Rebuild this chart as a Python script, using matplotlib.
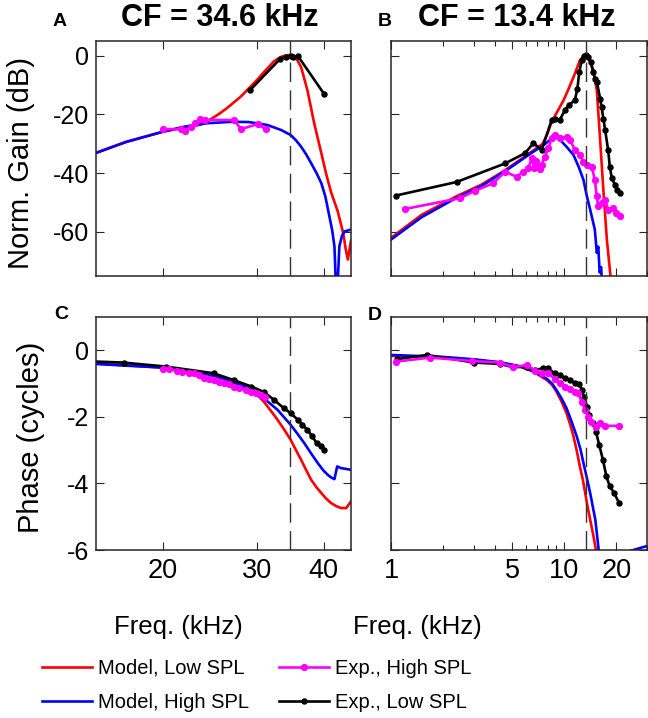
#!/usr/bin/env python3

import numpy as np
import matplotlib
matplotlib.use("Agg")
import matplotlib.pyplot as plt
from matplotlib.ticker import FixedLocator, NullLocator, NullFormatter

plt.rcParams["font.family"] = ["Liberation Sans", "DejaVu Sans"]

# ---- panel A: gain, CF = 34.6 kHz ----
a_cf = 34.6
a_low_f = [15, 17, 20, 22, 23.5, 24.2, 24.6, 25.5, 26.3, 27, 28, 29.1, 30, 31, 32.3,
           33.3, 33.8, 34.7, 35.2, 35.7, 36.3, 37.3, 38.4, 39.6, 40.4, 41.3, 42.5, 43.5,
           44.0, 44.4, 45]
a_low_g = [-33.1, -29.5, -25.9, -24.4, -23.5, -22.5, -21.6, -19.8, -18.0, -16.3, -13.9,
           -10.8, -8.3, -5.4, -1.9, -0.4, 0.0, 0.3, 0.0, -1.5, -3.9, -11.8, -23.0, -33.2,
           -40.0, -46.5, -53.0, -60.3, -66.0, -69.4, -63.0]
a_high_f = [15, 17.1, 20, 21.9, 24.2, 27, 29, 31.4, 33.3, 34.7, 35.5, 36.3, 37.1,
            37.9, 38.8, 39.6, 40.3, 41.0, 41.5, 41.9, 42.3, 42.8, 43.3, 43.8, 45]
a_high_g = [-33.1, -29.3, -25.9, -24.2, -23.0, -22.5, -22.6, -23.6, -25.3, -27.0,
            -28.8, -31.0, -33.6, -36.6, -40.0, -43.4, -48.0, -54.7, -59.5, -64.9, -85.0,
            -64.9, -61.2, -59.8, -59.2]
a_exp_low_f = [29.1, 33.2, 34.0, 34.7, 35.1, 35.8, 40.1]
a_exp_low_g = [-11.8, -1.0, -0.5, 0.0, -0.3, -0.1, -13.1]
a_exp_high_f = [20.0, 21.6, 22.0, 22.6, 23.0, 23.5, 24.0, 27.2, 28.0, 30.1, 31.2]
a_exp_high_g = [-25.0, -25.0, -25.6, -24.2, -22.8, -21.7, -21.9, -21.9, -25.0, -23.3, -25.1]

# ---- panel B: gain, CF = 13.4 kHz ----
b_cf = 13.4
b_low_f = [1, 1.5, 2.4, 3.3, 4.5, 5.5, 6.5, 7.5, 8.0, 8.45, 9.2, 9.9, 10.6, 11.3,
           12.3, 12.8, 13.2, 13.6, 14.0, 14.7, 15.4, 16.1, 16.8, 17.6, 18.4, 19.0]
b_low_g = [-62.0, -54.2, -47.8, -44.0, -39.2, -35.6, -32.6, -30.0, -26.5, -22.5, -18.6,
           -15.2, -11.2, -7.3, -1.6, -0.4, 0.1, -0.3, -1.5, -5.0, -11.8, -28.7, -45.7,
           -62.6, -74.0, -85.0]
b_high_f = [1, 1.5, 2.4, 3.3, 4.5, 5.5, 6.5, 7.5, 8.3, 8.84, 9.5, 10.3, 11.3, 12.1,
            12.9, 13.5, 14.1, 15.0, 15.4, 15.7, 16.0, 16.3, 16.6]
b_high_g = [-62.6, -55.0, -48.3, -44.5, -39.5, -36.0, -33.0, -30.7, -28.6, -27.6, -28.8,
            -31.0, -33.8, -37.8, -42.3, -47.9, -52.4, -59.2, -67.1, -65.0, -73.8, -72.0,
            -80.0]
b_exp_low_f = [1.07, 2.39, 4.55, 5.93, 6.63, 7.4, 8.45, 8.84, 9.4, 10.1, 10.6, 11.5,
               11.9, 12.2, 12.6, 13.0, 13.3, 13.7, 14.2, 14.7, 15.0, 15.4, 16.1, 16.4,
               16.8, 17.2, 17.9, 18.3, 18.8, 19.6, 20.1, 20.9]
b_exp_low_g = [-47.6, -43.0, -36.7, -33.2, -29.8, -32.1, -21.9, -21.4, -21.9, -18.5,
               -16.8, -15.2, -11.2, -5.6, -1.6, -0.2, 0.1, -0.5, -2.2, -5.6, -7.8, -8.9,
               -14.6, -17.4, -21.4, -25.3, -32.1, -37.8, -41.7, -44.0, -45.7, -46.8]
b_exp_high_f = [1.20, 2.50, 3.05, 3.89, 4.55, 5.3, 5.8, 6.2, 6.48, 6.7, 6.9, 7.2, 7.4,
                7.7, 8.1, 8.45, 8.84, 9.4, 10.3, 10.8, 11.5, 12.3, 12.9, 13.5, 14.4,
                15.0, 15.4, 15.7, 16.4, 17.2, 17.9, 19.1, 20.0, 20.9]
b_exp_high_g = [-52.2, -48.5, -46.0, -43.4, -39.5, -41.2, -39.5, -38.3, -34.9, -38.3,
                -36.0, -38.5, -37.2, -34.4, -31.5, -28.1, -27.0, -28.1, -27.6, -28.7,
                -32.1, -33.8, -36.1, -37.2, -37.8, -42.3, -47.9, -51.3, -50.2, -49.0,
                -52.4, -51.9, -53.6, -54.7]

# ---- panel C: phase, CF = 34.6 kHz ----
c_low_f = [15, 17, 20, 22, 24, 26, 27, 28.2, 29.2, 30.1, 30.9, 31.8, 32.8, 33.8, 34.7,
           35.5, 36.3, 37.1, 37.9, 38.8, 39.6, 40.4, 41.3, 42.2, 43.1, 44.1, 45]
c_low_p = [-0.40, -0.45, -0.52, -0.60, -0.70, -0.85, -0.97, -1.07, -1.19, -1.35, -1.54,
           -1.80, -2.09, -2.40, -2.69, -3.00, -3.29, -3.60, -3.89, -4.12, -4.29, -4.45,
           -4.59, -4.68, -4.74, -4.74, -4.54]
c_high_f = [15, 17, 20, 22, 24, 26, 27, 29.2, 30.9, 32.8, 34.7, 35.7, 36.8, 37.9, 39.0,
            39.9, 40.7, 41.3, 41.9, 42.4, 43.1, 45]
c_high_p = [-0.41, -0.46, -0.52, -0.60, -0.70, -0.85, -0.97, -1.14, -1.44, -1.79,
            -2.24, -2.50, -2.79, -3.10, -3.39, -3.60, -3.74, -3.82, -3.87, -3.49, -3.54,
            -3.59]
c_exp_low_f = [14.5, 16.9, 20.3, 24.9, 27.2, 29.3, 30.9, 32.3, 33.7, 34.7, 35.8, 36.5,
               37.3, 38.1, 38.8, 39.5, 40.1]
c_exp_low_p = [-0.33, -0.37, -0.49, -0.69, -0.90, -1.09, -1.25, -1.49, -1.74, -1.89,
               -2.09, -2.24, -2.39, -2.59, -2.79, -2.89, -2.99]
c_exp_high_f = [20.0, 20.5, 21.3, 21.7, 22.4, 22.9, 23.4, 23.9, 24.4, 24.9, 25.5, 26.0,
                26.6, 27.2, 27.8, 28.6, 29.2, 29.9, 30.5, 31.1]
c_exp_high_p = [-0.57, -0.57, -0.61, -0.64, -0.67, -0.69, -0.74, -0.84, -0.87, -0.89,
                -0.94, -0.97, -1.01, -1.09, -1.14, -1.19, -1.24, -1.29, -1.34, -1.39]

# ---- panel D: phase, CF = 13.4 kHz ----
d_low_f = [1, 2, 3, 4.26, 5.55, 6.62, 7.9, 8.5, 9.0, 9.6, 10.3, 10.8, 11.3, 11.8, 12.3,
           12.8, 13.2, 13.6, 14.1, 14.6, 15.1, 15.6]
d_low_p = [-0.17, -0.22, -0.29, -0.37, -0.49, -0.64, -0.89, -1.04, -1.24, -1.52, -1.89,
           -2.22, -2.59, -3.02, -3.49, -3.90, -4.29, -4.68, -5.09, -5.48, -5.89, -6.40]
d_high_f = [1, 2, 3, 4.26, 5.55, 6.62, 7.9, 8.5, 9.0, 9.6, 10.3, 11.0, 11.8, 12.4,
            12.9, 13.5, 14.1, 14.6, 15.1, 15.7, 16.2, np.nan, 21.5, 30]
d_high_p = [-0.14, -0.20, -0.27, -0.36, -0.48, -0.62, -0.85, -1.00, -1.19, -1.43, -1.74,
            -2.13, -2.59, -2.98, -3.39, -3.84, -4.29, -4.70, -5.09, -5.89, -6.50,
            np.nan, -6.10, -5.88]
d_exp_low_f = [1.08, 1.61, 3.03, 4.26, 5.08, 6.07, 6.78, 7.56, 8.1, 8.27, 8.8, 9.4,
               10.1, 10.8, 11.5, 12.2, 12.6, 13.0, 13.5, 13.9, 14.6, 15.2, 15.9, 16.7,
               17.5, 18.3, 19.4, 20.7]
d_exp_low_p = [-0.27, -0.14, -0.37, -0.41, -0.51, -0.49, -0.59, -0.54, -0.54, -0.64,
               -0.69, -0.74, -0.84, -0.89, -0.99, -1.01, -1.19, -1.39, -1.69, -1.94,
               -2.19, -2.44, -2.84, -3.29, -3.79, -4.09, -4.29, -4.59]
d_exp_high_f = [1.07, 1.68, 2.92, 4.26, 5.08, 6.07, 6.78, 7.4, 8.1, 8.84, 9.4, 10.1,
                10.8, 11.5, 12.0, 12.6, 13.2, 13.7, 14.3, 15.2, 16.0, 17.2, 20.8]
d_exp_high_p = [-0.34, -0.22, -0.32, -0.37, -0.51, -0.44, -0.61, -0.67, -0.69, -0.87,
                -0.99, -1.09, -1.17, -1.24, -1.29, -1.54, -1.79, -1.99, -2.14, -2.31,
                -2.17, -2.27, -2.27]

FRAME = "#262626"
LW = 1.9


def style_axis(ax, xlim, ylim, xmajor, xminor, yticks, xlabels, ylabels):
    ax.set_xscale("log")
    ax.set_xlim(*xlim)
    ax.set_ylim(*ylim)
    ax.xaxis.set_major_locator(FixedLocator(xmajor))
    if xminor:
        ax.xaxis.set_minor_locator(FixedLocator(xminor))
    else:
        ax.xaxis.set_minor_locator(NullLocator())
    ax.xaxis.set_minor_formatter(NullFormatter())
    ax.set_yticks(yticks)
    if xlabels:
        ax.set_xticklabels([f"{t:g}" for t in xmajor], fontsize=19.5)
    else:
        ax.set_xticklabels([])
    if ylabels:
        ax.set_yticklabels([f"{t:g}" for t in yticks], fontsize=18)
    else:
        ax.set_yticklabels([])
    ax.tick_params(which="both", direction="in", top=True, right=True,
                   color=FRAME, width=0.8)
    ax.tick_params(which="major", length=5.8, pad=5)
    ax.tick_params(which="minor", length=3.8)
    ax.tick_params(axis="x", pad=6)
    for s in ax.spines.values():
        s.set_color(FRAME)
        s.set_linewidth(1.1)


def draw(ax, low, high, exp_low, exp_high, cf):
    h1, = ax.plot(low[0], low[1], color="#ff0000", lw=LW, label="Model, Low SPL")
    h2, = ax.plot(high[0], high[1], color="#0000ff", lw=LW, label="Model, High SPL")
    h4, = ax.plot(exp_low[0], exp_low[1], color="k", lw=LW, marker="o", ms=3.6,
                  label="Exp., Low SPL")
    h3, = ax.plot(exp_high[0], exp_high[1], color="#ff00ff", lw=LW, marker="o", ms=4.2,
                  label="Exp., High SPL")
    ax.axvline(cf, color="#333333", lw=1.0, ls=(0, (14, 6)))
    return [h1, h2, h3, h4]


fig = plt.figure(figsize=(6.48, 7.18), dpi=100)
W, H = 648.0, 718.0


def add_axes(left, top, right, bottom):
    return fig.add_axes([left / W, 1 - bottom / H, (right - left) / W, (bottom - top) / H])


ax_a = add_axes(96, 41, 351, 276)
ax_b = add_axes(391, 41, 647, 276)
ax_c = add_axes(96, 317, 351, 550)
ax_d = add_axes(391, 317, 647, 550)

draw(ax_a, (a_low_f, a_low_g), (a_high_f, a_high_g),
     (a_exp_low_f, a_exp_low_g), (a_exp_high_f, a_exp_high_g), a_cf)
draw(ax_b, (b_low_f, b_low_g), (b_high_f, b_high_g),
     (b_exp_low_f, b_exp_low_g), (b_exp_high_f, b_exp_high_g), b_cf)
draw(ax_c, (c_low_f, c_low_p), (c_high_f, c_high_p),
     (c_exp_low_f, c_exp_low_p), (c_exp_high_f, c_exp_high_p), a_cf)
handles = draw(ax_d, (d_low_f, d_low_p), (d_high_f, d_high_p),
               (d_exp_low_f, d_exp_low_p), (d_exp_high_f, d_exp_high_p), b_cf)

high_major = [20, 30, 40]
low_major = [1, 5, 10, 20]
low_minor = [2, 3, 4, 6, 7, 8, 9, 30]
gain_ticks = [-60, -40, -20, 0]
phase_ticks = [-6, -4, -2, 0]

style_axis(ax_a, (15, 45), (-75, 5), high_major, None, gain_ticks, False, True)
style_axis(ax_b, (1, 30), (-75, 5), low_major, low_minor, gain_ticks, False, False)
style_axis(ax_c, (15, 45), (-6, 1), high_major, None, phase_ticks, True, True)
style_axis(ax_d, (1, 30), (-6, 1), low_major, low_minor, phase_ticks, True, False)

# titles and panel letters
fig.text(60 / W, 1 - 21 / H, "A", fontsize=14, fontweight="bold", ha="center", va="center")
fig.text(385 / W, 1 - 21 / H, "B", fontsize=14, fontweight="bold", ha="center", va="center")
fig.text(61 / W, 1 - 314 / H, "C", fontsize=14, fontweight="bold", ha="center", va="center")
fig.text(375 / W, 1 - 315 / H, "D", fontsize=14, fontweight="bold", ha="center", va="center")
fig.text(220 / W, 1 - 18 / H, "CF = 34.6 kHz", fontsize=22, fontweight="bold",
         ha="center", va="center")
fig.text(517 / W, 1 - 18 / H, "CF = 13.4 kHz", fontsize=22, fontweight="bold",
         ha="center", va="center")

# axis labels
fig.text(21 / W, 1 - 163 / H, "Norm. Gain (dB)", fontsize=21, rotation=90,
         ha="center", va="center")
fig.text(31 / W, 1 - 437 / H, "Phase (cycles)", fontsize=21, rotation=90,
         ha="center", va="center")
fig.text(178 / W, 1 - 627 / H, "Freq. (kHz)", fontsize=18.5, ha="center", va="center")
fig.text(417 / W, 1 - 627 / H, "Freq. (kHz)", fontsize=18.5, ha="center", va="center")

fig.legend(handles=handles, loc="upper left", bbox_to_anchor=(42 / W, 1 - 659 / H),
           ncol=2, frameon=False, fontsize=14.5, borderpad=0, borderaxespad=0,
           handlelength=2.5, handletextpad=0.3, columnspacing=1.45, labelspacing=0.75)

fig.savefig("out.png", dpi=100)
